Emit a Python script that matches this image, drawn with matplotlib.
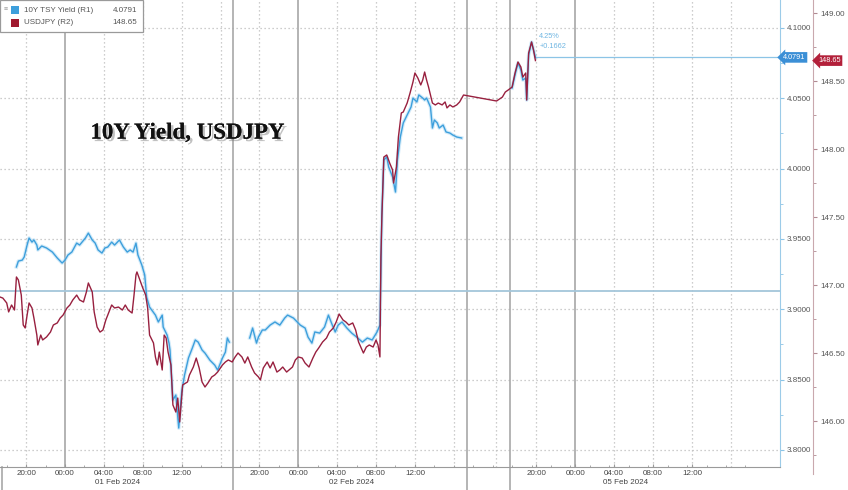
import numpy as np
import matplotlib
matplotlib.use("Agg")
import matplotlib.pyplot as plt
import matplotlib.patheffects as pe
import matplotlib.transforms as mtransforms
from matplotlib.patches import Rectangle

plt.rcParams['font.family'] = ['Liberation Sans', 'DejaVu Sans']

# chart hours from 00:00 01 Feb 2024 (weekend compressed as on the terminal)
yield_hrs = [-5.0, -4.8, -4.4, -4.2, -3.9, -3.7, -3.4, -3.2, -2.9, -2.8, -2.4, -1.9, -1.3, -0.8, -0.3,
             0.0, 0.3, 0.7, 1.2, 1.5, 2.1, 2.4, 2.8, 3.1, 3.4, 3.8, 4.1, 4.4, 4.8, 5.1, 5.6, 6.0, 6.4,
             6.7, 7.0, 7.3, 7.5, 7.9, 8.2, 8.4, 8.7, 9.3, 9.6, 10.0, 10.1, 10.5, 10.7, 10.8, 11.1, 11.4,
             11.7, 12.0, 12.3, 12.7, 13.1, 13.4, 13.7, 14.1, 14.4, 14.9, 15.4, 15.7, 16.2, 16.5, 16.7,
             16.9, 18.0,
             19.0, 19.3, 19.7, 19.9, 20.3, 20.6, 21.1, 21.6, 22.1, 22.6, 22.9, 23.5, 23.9, 24.2, 24.7,
             25.0, 25.4, 25.7, 26.2, 26.7, 27.1, 27.5, 27.8, 28.1, 28.5, 29.0, 29.5, 30.0, 30.6, 31.1,
             31.6, 32.1, 32.4, 32.6, 32.8, 33.1, 33.3, 33.7, 34.0, 34.2, 34.5, 34.8, 35.1, 35.3, 35.6,
             35.8, 36.2, 36.4, 36.8, 37.0, 37.2, 37.6, 37.8, 38.0, 38.3, 38.5, 38.9, 39.2, 39.6, 39.9,
             40.3, 40.8, 43.0,
             46.0, 46.3, 46.6, 46.9, 47.1, 47.4, 47.5, 47.7, 48.0, 48.2, 48.4]
yield_vals = [3.9301, 3.9343, 3.9350, 3.9372, 3.9457, 3.9507, 3.9478, 3.9493, 3.9457, 3.9422, 3.9450,
              3.9436, 3.9407, 3.9365, 3.9329, 3.9350, 3.9386, 3.9407, 3.9471, 3.9457, 3.9507, 3.9542,
              3.9493, 3.9471, 3.9422, 3.9400, 3.9436, 3.9443, 3.9478, 3.9457, 3.9493, 3.9443, 3.9407,
              3.9422, 3.9407, 3.9471, 3.9386, 3.9315, 3.9244, 3.9087, 3.9016, 3.8959, 3.8910, 3.8959,
              3.8874, 3.8817, 3.8760, 3.8711, 3.8355, 3.8391, 3.8156, 3.8412, 3.8533, 3.8654, 3.8725,
              3.8782, 3.8767, 3.8711, 3.8689, 3.8639, 3.8604, 3.8568, 3.8654, 3.8696, 3.8796, 3.8767,
              np.nan,
              3.8796, 3.8867, 3.8760, 3.8803, 3.8853, 3.8853, 3.8888, 3.8910, 3.8888, 3.8938, 3.8959,
              3.8938, 3.8910, 3.8888, 3.8867, 3.8803, 3.8760, 3.8839, 3.8831, 3.8874, 3.8959, 3.8888,
              3.8839, 3.8888, 3.8910, 3.8867, 3.8831, 3.8803, 3.8767, 3.8796, 3.8782, 3.8839, 3.8888,
              3.9685, 4.0061, 4.0083, 4.0012, 3.9941, 3.9834, 4.0061, 4.0225, 4.0325, 4.0367, 4.0396,
              4.0438, 4.0502, 4.0474, 4.0524, 4.0502, 4.0488, 4.0502, 4.0438, 4.0289, 4.0346, 4.0325,
              4.0289, 4.0310, 4.0261, 4.0253, 4.0239, 4.0225, 4.0218,
              np.nan,
              4.0573, 4.0666, 4.0751, 4.0701, 4.0630, 4.0644, 4.0488, 4.0808, 4.0900, 4.0844, 4.0791]

jpy_hrs = [-6.7, -6.4, -6.0, -5.8, -5.5, -5.2, -5.0, -4.8, -4.5, -4.3, -4.1, -3.9, -3.7, -3.4, -3.2,
           -2.9, -2.8, -2.5, -2.3, -1.9, -1.5, -1.2, -0.8, -0.5, -0.2, 0.2, 0.5, 0.8, 1.2, 1.5, 1.9,
           2.2, 2.4, 2.8, 3.0, 3.3, 3.6, 3.9, 4.2, 4.4, 4.8, 5.1, 5.5, 5.9, 6.2, 6.5, 6.9, 7.1, 7.3,
           7.4, 7.7, 8.0, 8.3, 8.5, 8.7, 9.1, 9.3, 9.5, 9.7, 10.0, 10.2, 10.4, 10.6, 10.9, 11.1, 11.4,
           11.6, 11.8, 12.0, 12.1, 12.6, 12.8, 13.2, 13.5, 13.8, 14.1, 14.4, 14.7, 15.1, 15.4, 15.7,
           16.2, 16.5, 16.8, 17.2, 17.5, 17.8, 18.2, 18.5, 18.8, 19.2, 19.5, 19.9, 20.1, 20.4, 20.8,
           21.1, 21.4, 21.8, 22.1, 22.4, 22.8, 23.4, 23.7, 24.0, 24.4, 24.7, 25.1, 25.5, 25.8, 26.1,
           26.5, 26.9, 27.2, 27.6, 27.9, 28.2, 28.6, 28.9, 29.2, 29.6, 29.9, 30.2, 30.7, 31.0, 31.3,
           31.7, 32.0, 32.2, 32.4, 32.5, 32.6, 32.8, 33.1, 33.4, 33.7, 33.8, 34.1, 34.3, 34.6, 34.8,
           35.2, 35.5, 35.8, 36.0, 36.3, 36.6, 36.8, 37.0, 37.2, 37.4, 37.8, 38.1, 38.4, 38.8, 39.1,
           39.3, 39.6, 39.9, 40.3, 40.6, 41.0, 44.4, 45.0, 45.3, 45.6, 46.0, 46.3, 46.6, 46.9, 47.1,
           47.4, 47.5, 47.7, 48.0, 48.2, 48.4]
jpy_vals = [146.912, 146.904, 146.868, 146.802, 146.853, 146.816, 147.059, 147.037, 146.926, 146.706,
            146.684, 146.779, 146.868, 146.831, 146.757, 146.632, 146.559, 146.632, 146.596, 146.618,
            146.654, 146.706, 146.721, 146.757, 146.779, 146.831, 146.853, 146.890, 146.926, 146.890,
            146.875, 146.949, 147.015, 146.949, 146.802, 146.691, 146.654, 146.669, 146.743, 146.779,
            146.853, 146.831, 146.838, 146.816, 146.853, 146.816, 146.794, 146.926, 147.074, 147.096,
            147.037, 146.978, 146.926, 146.831, 146.632, 146.574, 146.471, 146.412, 146.507, 146.375,
            146.632, 146.610, 146.507, 146.412, 146.118, 146.066, 146.169, 145.993, 146.169, 146.265,
            146.287, 146.338, 146.397, 146.463, 146.390, 146.287, 146.250, 146.279, 146.324, 146.338,
            146.360, 146.412, 146.434, 146.449, 146.434, 146.471, 146.500, 146.471, 146.426, 146.471,
            146.397, 146.353, 146.324, 146.302, 146.390, 146.434, 146.390, 146.434, 146.360, 146.375,
            146.397, 146.360, 146.397, 146.449, 146.471, 146.463, 146.426, 146.397, 146.463, 146.507,
            146.537, 146.581, 146.610, 146.654, 146.684, 146.728, 146.787, 146.743, 146.728, 146.706,
            146.721, 146.669, 146.581, 146.500, 146.544, 146.559, 146.544, 146.596, 146.559, 146.471,
            147.206, 147.500, 147.941, 147.956, 147.897, 147.846, 147.750, 147.868, 148.088, 148.265,
            148.272, 148.338, 148.412, 148.493, 148.559, 148.522, 148.471, 148.507, 148.566, 148.507,
            148.456, 148.338, 148.324, 148.338, 148.324, 148.346, 148.302, 148.324, 148.309, 148.324,
            148.346, 148.397, 148.353, 148.382, 148.419, 148.434, 148.456, 148.559, 148.640, 148.603,
            148.529, 148.559, 148.360, 148.706, 148.787, 148.728, 148.65]

yield_last = 4.0791
yield_prev = 3.9129
yield_chg = "+0.1662"
yield_pct = "4.25%"
jpy_last = 148.65

time_ticks = [-4, 0, 4, 8, 12, 20, 24, 28, 32, 36, 48.5, 52.5, 56.5, 60.5, 64.5]
time_labels = ["20:00", "00:00", "04:00", "08:00", "12:00",
               "20:00", "00:00", "04:00", "08:00", "12:00",
               "20:00", "00:00", "04:00", "08:00", "12:00"]
date_pos = [5.4, 29.5, 57.7]
date_labels = ["01 Feb 2024", "02 Feb 2024", "05 Feb 2024"]
midnights = [0, 24, 52.5]
session_breaks = [17.3, 41.35, 45.8]
dotted_hrs = [-4, 4, 8, 12, 16, 20, 28, 32, 36, 40, 44.3, 48.5, 56.5, 60.5, 64.5, 68.5]
r1_ticks = [3.80, 3.85, 3.90, 3.95, 4.00, 4.05, 4.10]
r2_ticks = [146.0, 146.5, 147.0, 147.5, 148.0, 148.5, 149.0]

BLUE = '#3d9fdc'
RED = '#98203f'
GRID = '#bdbdbd'

fig = plt.figure(figsize=(8.48, 4.90), dpi=100)
ax = fig.add_axes([0, 0.0469, 0.9198, 0.9531])
ax2 = ax.twinx()

ax.set_xlim(-6.69, 73.56)
ax.set_ylim(3.7879, 4.1199)
ax2.set_ylim(145.6617, 149.0956)

# grid
for v in r1_ticks:
    ax.axhline(v, color=GRID, lw=0.9, ls=(0, (1, 2.2)), zorder=0)
for h in dotted_hrs:
    ax.axvline(h, color=GRID, lw=0.9, ls=(0, (1, 2.2)), zorder=0)
for h in midnights:
    ax.axvline(h, color='#b3b3b3', lw=1.4, zorder=0)
for h in session_breaks:
    ax.axvline(h, ymin=-0.05, ymax=1, color='#a8a8a8', lw=1.2, zorder=0, clip_on=False)
# previous session break only shows in the date strip
ax.axvline(-6.5, ymin=-0.05, ymax=0, color='#a8a8a8', lw=1.2, clip_on=False)

# prior close and last value lines
ax.axhline(yield_prev, color='#a4c6da', lw=1.3, zorder=1)
ax.plot([48.4, 73.56], [yield_last, yield_last], color='#8cc4e6', lw=0.9, zorder=1)

# series
ax.plot(yield_hrs, yield_vals, color='#9fd3f3', lw=2.6, alpha=0.45, zorder=2)
ax.plot(yield_hrs, yield_vals, color=BLUE, lw=1.0, zorder=3)
ax2.plot(jpy_hrs, jpy_vals, color=RED, lw=1.0, zorder=3)

# annotation at last point
ax.text(48.8, 4.0936, yield_pct, fontsize=5.3, color='#6fb6e2', va='center', ha='left')
ax.text(48.8, 4.0866, yield_chg, fontsize=5.3, color='#6fb6e2', va='center', ha='left')

# axes styling
for s in ['top', 'left']:
    ax.spines[s].set_visible(False)
    ax2.spines[s].set_visible(False)
ax.spines['bottom'].set_color('#9a9a9a')
ax2.spines['bottom'].set_visible(False)
ax.spines['right'].set_color('#9ccbe8')
ax2.spines['right'].set_position(('outward', 33 * 72 / 100))
ax2.spines['right'].set_color('#c9a8ae')
ax2.spines['right'].set_bounds(145.61, 149.0956)

ax.yaxis.tick_right()
ax.set_yticks(r1_ticks)
ax.set_yticklabels([f"{v:.4f}" for v in r1_ticks])
ax.set_yticks([3.825, 3.875, 3.925, 3.975, 4.025, 4.075], minor=True)
ax.tick_params(axis='y', which='both', direction='out', colors='#8cc4e6', labelcolor='#555555',
               labelsize=5.8, pad=2)
ax.tick_params(axis='y', which='major', length=3)
ax.tick_params(axis='y', which='minor', length=2)

ax2.set_yticks(r2_ticks)
ax2.set_yticklabels([f"{v:.2f}" for v in r2_ticks])
ax2.set_yticks([145.75, 146.25, 146.75, 147.25, 147.75, 148.25, 148.75], minor=True)
ax2.tick_params(axis='y', which='both', direction='out', colors='#b08a92', labelcolor='#555555',
                labelsize=5.8, pad=2)
ax2.tick_params(axis='y', which='major', length=3)
ax2.tick_params(axis='y', which='minor', length=2)

ax.set_xticks(time_ticks)
ax.set_xticklabels(time_labels)
ax.set_xticks(np.arange(-6, 72, 2), minor=True)
ax.tick_params(axis='x', which='major', length=2, direction='in', colors='#9a9a9a',
               labelcolor='#444444', labelsize=5.8, pad=2)
ax.tick_params(axis='x', which='minor', length=1.5, direction='in', colors='#9a9a9a')

xt = mtransforms.blended_transform_factory(ax.transData, ax.transAxes)
for p, lab in zip(date_pos, date_labels):
    ax.text(p, -0.034, lab, transform=xt, ha='center', va='center', fontsize=5.8, color='#444444')

# value tags on the axes
yt = mtransforms.blended_transform_factory(ax.transAxes, ax.transData)
ax.text(1.004, yield_last, f"{yield_last:.4f}", transform=yt, ha='left', va='center',
        fontsize=5.2, color='white', zorder=5, clip_on=False,
        bbox=dict(boxstyle='larrow,pad=0.25', fc='#3b8fd6', ec='none'))
yt2 = mtransforms.offset_copy(mtransforms.blended_transform_factory(ax2.transAxes, ax2.transData),
                              fig=fig, x=38, y=0, units='dots')
ax2.text(1.0, jpy_last, f"{jpy_last:.2f}", transform=yt2, ha='left', va='center',
         fontsize=5.2, color='white', zorder=5, clip_on=False,
         bbox=dict(boxstyle='larrow,pad=0.25', fc='#b3203a', ec='none'))

# title with drop shadow
ax.text(0.24, 0.715, "10Y Yield, USDJPY", transform=ax.transAxes, ha='center', va='center',
        fontsize=16.5, fontweight='bold', family='Liberation Serif', color='#111111',
        path_effects=[pe.withSimplePatchShadow(offset=(1.8, -1.8), shadow_rgbFace='#777777',
                                               alpha=0.45), pe.Normal()])

# legend box top-left
fig.patches.append(Rectangle((0.0, 1 - 32 / 490), 143 / 848, 32 / 490, transform=fig.transFigure,
                             fc='white', ec='#9a9a9a', lw=0.9, zorder=10))
fig.text(4 / 848, 1 - 10 / 490, "≡", fontsize=5, color='#999999', va='center', zorder=11)
fig.patches.append(Rectangle((11 / 848, 1 - 14 / 490), 8 / 848, 8 / 490, transform=fig.transFigure,
                             fc=BLUE, ec='none', zorder=11))
fig.patches.append(Rectangle((11 / 848, 1 - 27 / 490), 8 / 848, 8 / 490, transform=fig.transFigure,
                             fc='#a0192f', ec='none', zorder=11))
fig.text(24 / 848, 1 - 10 / 490, "10Y TSY Yield (R1)", fontsize=5.8, color='#555555', va='center', zorder=11)
fig.text(24 / 848, 1 - 23 / 490, "USDJPY (R2)", fontsize=5.8, color='#555555', va='center', zorder=11)
fig.text(137 / 848, 1 - 10 / 490, f"{yield_last:.4f}", fontsize=5.8, color='#555555', va='center',
         ha='right', zorder=11)
fig.text(137 / 848, 1 - 23 / 490, f"{jpy_last:.2f}", fontsize=5.8, color='#555555', va='center',
         ha='right', zorder=11)

fig.savefig("out.png", dpi=100)
